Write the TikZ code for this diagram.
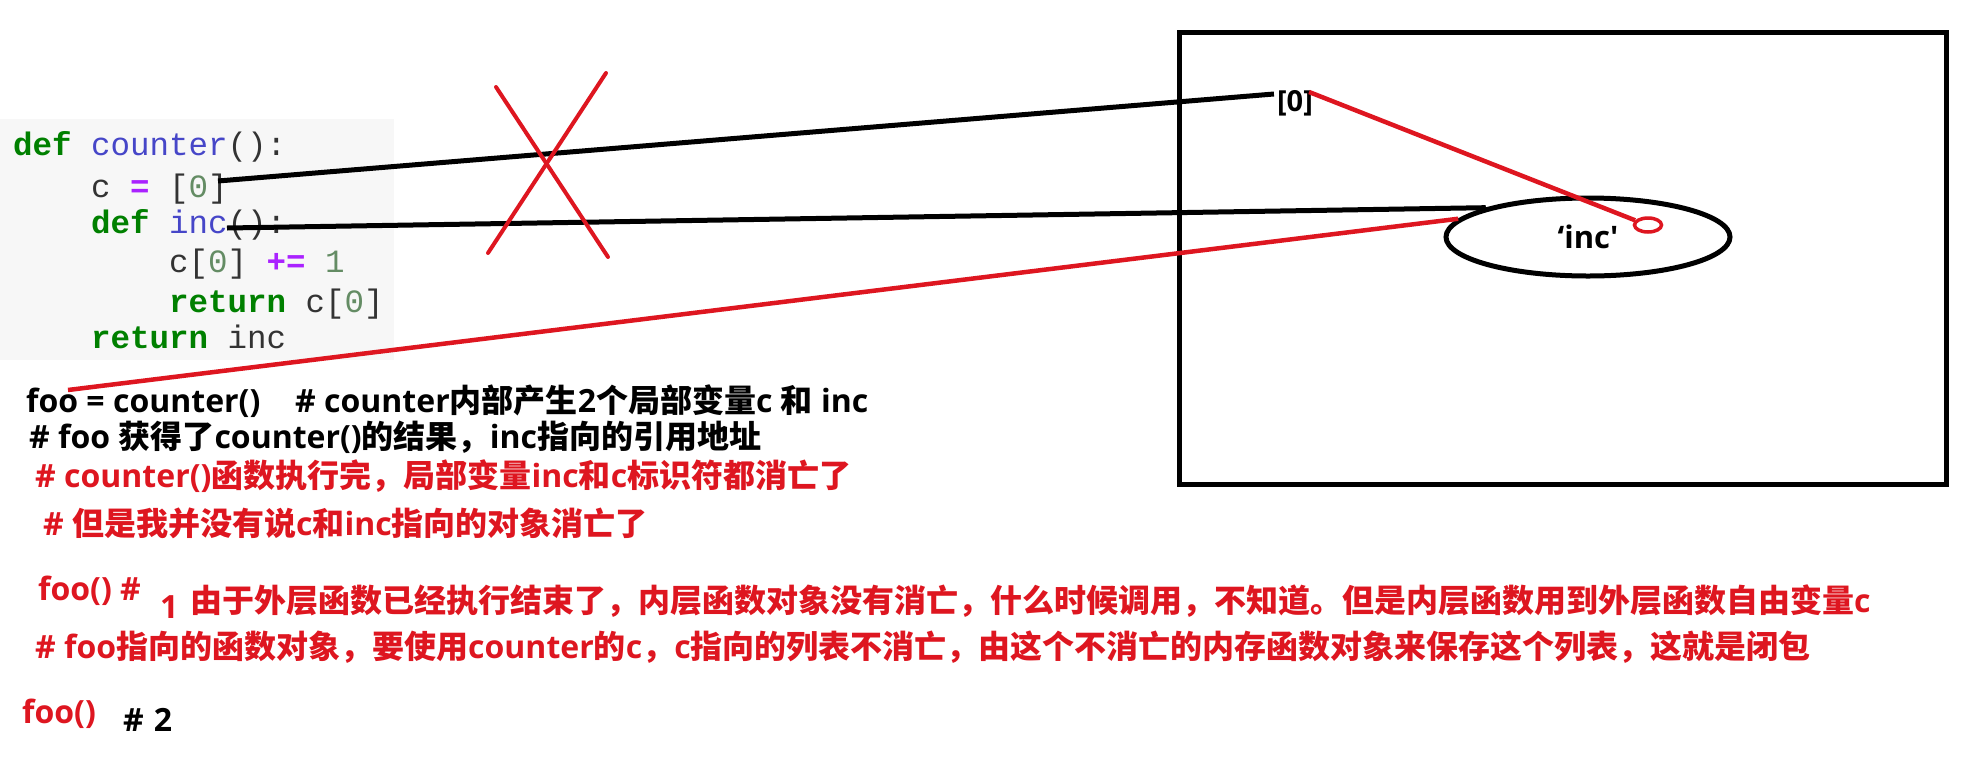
\documentclass[tikz,border=0pt]{standalone}
\usepackage{fontspec}
\usetikzlibrary{shapes.geometric}
\setmainfont{Open Sans}
\newfontfamily\zhf[Scale=1.0]{Noto Sans CJK SC}
\newfontfamily\codef{Liberation Mono}
\newcommand\zh[1]{{\zhf #1}}
\definecolor{myred}{RGB}{222,22,32}
\definecolor{kwgreen}{RGB}{0,128,0}
\definecolor{fnblue}{RGB}{70,70,200}
\definecolor{oppurple}{RGB}{170,34,255}
\definecolor{numgreen}{RGB}{100,140,100}
\definecolor{codegray}{RGB}{51,51,51}
\definecolor{codebg}{RGB}{247,247,247}
\newcommand\kw[1]{{\bfseries\color{kwgreen}#1}}
\newcommand\fn[1]{{\color{fnblue}#1}}
\newcommand\op[1]{{\bfseries\color{oppurple}#1}}
\newcommand\num[1]{{\color{numgreen}#1}}
\tikzset{
  txt/.style={anchor=base west, inner sep=0pt, font=\fontsize{32}{38}\selectfont\bfseries},
  redt/.style={txt, text=myred},
  blkt/.style={txt, text=black},
  codeline/.style={anchor=base west, inner sep=0pt, font=\codef\fontsize{32.5}{38}\selectfont, text=codegray},
  blkline/.style={line width=5pt, black},
  redline/.style={line width=4.5pt, myred},
  memobj/.style={font=\fontsize{29}{36}\selectfont\bfseries, inner sep=0pt},
}
\begin{document}
\begin{tikzpicture}[x=1pt,y=-1pt]
\useasboundingbox (0,0) rectangle (1961,769);
\fill[white] (0,0) rectangle (1961,769);
% code block
\fill[codebg] (0,119) rectangle (394,360);
\node[codeline] (code1) at (13,155) {\kw{def} \fn{counter}():};
\node[codeline] (code2) at (91,197) {c \op{=} [\num{0}]};
\node[codeline] (code3) at (91,233) {\kw{def} \fn{inc}():};
\node[codeline] (code4) at (169,272) {c[\num{0}] \op{+=} \num{1}};
\node[codeline] (code5) at (169,312) {\kw{return} c[\num{0}]};
\node[codeline] (code6) at (91,348) {\kw{return} inc};
% memory box
\draw[line width=5pt] (1179,32) rectangle (1946,484);
\node[memobj] (zero) at (1295,103) {[0]};
\node[draw, ellipse, line width=5pt, minimum width=284pt, minimum height=78pt, inner sep=0pt,
      font=\fontsize{31}{38}\selectfont\bfseries] (incobj) at (1588,237) {‘inc\textquotesingle};
\node[draw=myred, ellipse, line width=3.5pt, minimum width=27pt, minimum height=14pt, inner sep=0pt] (loop) at (1648,225) {};
% texts
\node[blkt] (l1a) at (26,412) {foo = counter()};
\node[blkt] (l1b) at (295,412) {\# counter\zh{内部产生}2\zh{个局部变量}c \zh{和} inc};
\node[blkt] (l2) at (29,448) {\# foo \zh{获得了}counter()\zh{的结果，}inc\zh{指向的引用地址}};
\node[redt] (l3) at (35,487) {\# counter()\zh{函数执行完，局部变量}inc\zh{和}c\zh{标识符都消亡了}};
\node[redt] (l4) at (43,535) {\# \zh{但是我并没有说}c\zh{和}inc\zh{指向的对象消亡了}};
\node[redt] (l5a) at (38,600) {foo() \#};
\node[redt] (l5b) at (160,618) {1};
\node[redt] (l5c) at (190,612) {\zh{由于外层函数已经执行结束了，内层函数对象没有消亡，什么时候调用，不知道。但是内层函数用到外层函数自由变量}c};
\node[redt] (l6) at (35,658) {\# foo\zh{指向的函数对象，要使用}counter\zh{的}c\zh{，}c\zh{指向的列表不消亡，由这个不消亡的内存函数对象来保存这个列表，这就是闭包}};
\node[redt] (l7a) at (22,723) {foo()};
\node[blkt] (l7b) at (123,731) {\#\hspace{10pt}2};
% connector start points
\coordinate (cref) at ([xshift=127pt,yshift=16pt]code2.base west);
\coordinate (incref) at ([xshift=136pt,yshift=5pt]code3.base west);
\coordinate (fooref) at ([xshift=42pt,yshift=22pt]l1a.base west);
% connectors
\draw[blkline] (cref) -- ([xshift=-3pt,yshift=-4pt]zero.north west);
\draw[blkline] (incref) -- (incobj.164);
\draw[redline] (fooref) -- (incobj.172);
\draw[redline] ([xshift=-4pt,yshift=-2pt]zero.north east) -- (loop.160);
% red cross
\draw[myred, line width=4pt, line cap=round] (496,87) -- (608,257);
\draw[myred, line width=4pt, line cap=round] (606,73) -- (488,253);
\end{tikzpicture}
\end{document}
